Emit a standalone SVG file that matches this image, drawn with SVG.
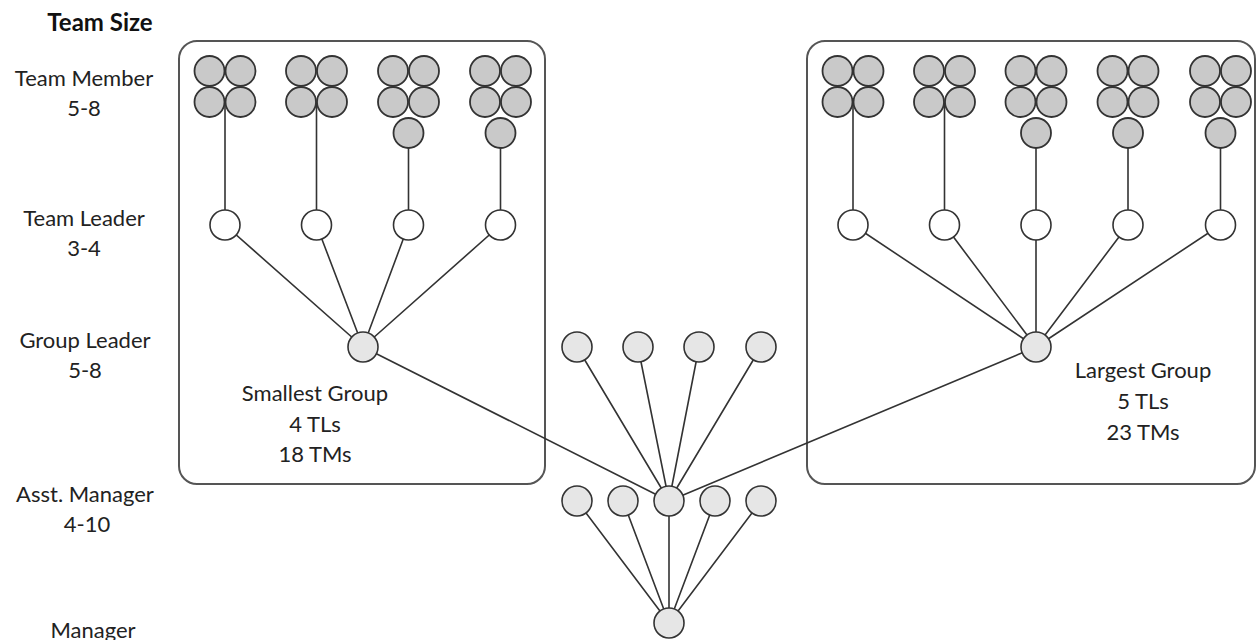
<svg xmlns="http://www.w3.org/2000/svg" width="1257" height="640" viewBox="0 0 1257 640">
<style>
.lbl{font-family:Lato,"Open Sans","Liberation Sans",sans-serif;font-size:22px;fill:#222;text-anchor:middle}
.ttl{font-family:Lato,"Open Sans","Liberation Sans",sans-serif;font-size:24px;font-weight:bold;fill:#111;text-anchor:middle}
.box{fill:none;stroke:#555;stroke-width:2}
.ln{stroke:#333;stroke-width:1.6;fill:none}
.tm{fill:#c9c9c9;stroke:#333;stroke-width:1.8}
.tl{fill:#fff;stroke:#333;stroke-width:1.6}
.gl{fill:#e6e6e6;stroke:#333;stroke-width:1.6}
</style>
<defs>
<g id="c4"><circle class="tm" cx="-15.5" cy="0" r="15"/><circle class="tm" cx="15.5" cy="0" r="15"/><circle class="tm" cx="-15.5" cy="31" r="15"/><circle class="tm" cx="15.5" cy="31" r="15"/></g>
<g id="c5"><use href="#c4"/><circle class="tm" cx="0" cy="62" r="15"/></g>
</defs>
<rect width="1257" height="640" fill="#fff"/>
<g id="labels">
<text class="ttl" x="100" y="31">Team Size</text>
<text class="lbl" x="84" y="86">Team Member</text>
<text class="lbl" x="84" y="116">5-8</text>
<text class="lbl" x="84" y="226">Team Leader</text>
<text class="lbl" x="84" y="256">3-4</text>
<text class="lbl" x="85" y="348">Group Leader</text>
<text class="lbl" x="85" y="378">5-8</text>
<text class="lbl" x="85" y="502">Asst. Manager</text>
<text class="lbl" x="87" y="532">4-10</text>
<text class="lbl" x="93" y="638">Manager</text>
</g>
<g id="boxes">
<rect id="smallest-box" class="box" x="179" y="41" width="366" height="443" rx="18"/>
<rect id="largest-box" class="box" x="807" y="41" width="448" height="443" rx="18"/>
</g>
<g id="connectors">
<path class="ln" d="M225 102V225M316.5 102V225M408.5 133V225M500.5 133V225"/>
<path class="ln" d="M853 102V225M944.5 102V225M1036 133V225M1128 133V225M1220.5 133V225"/>
<path class="ln" d="M225 225L363 347M316.5 225L363 347M408.5 225L363 347M500.5 225L363 347"/>
<path class="ln" d="M853 225L1036 347M944.5 225L1036 347M1036 225L1036 347M1128 225L1036 347M1220.5 225L1036 347"/>
<path class="ln" d="M363 347L669 501M1036 347L669 501M577 347L669 501M638 347L669 501M699 347L669 501M761 347L669 501"/>
<path class="ln" d="M577 501L669 623M623 501L669 623M669 501L669 623M715 501L669 623M761 501L669 623"/>
</g>
<g id="smallest-group">
<g id="tm-s1"><use href="#c4" x="225" y="71"/></g>
<g id="tm-s2"><use href="#c4" x="316.5" y="71"/></g>
<g id="tm-s3"><use href="#c5" x="408.5" y="71"/></g>
<g id="tm-s4"><use href="#c5" x="500.5" y="71"/></g>
<g id="tl-s"><circle class="tl" cx="225" cy="225" r="15"/><circle class="tl" cx="316.5" cy="225" r="15"/><circle class="tl" cx="408.5" cy="225" r="15"/><circle class="tl" cx="500.5" cy="225" r="15"/></g>
<g id="gl-s"><circle class="gl" cx="363" cy="347" r="15"/></g>
<text class="lbl" x="315" y="401">Smallest Group</text>
<text class="lbl" x="315" y="432">4 TLs</text>
<text class="lbl" x="315" y="462">18 TMs</text>
</g>
<g id="largest-group">
<g id="tm-l1"><use href="#c4" x="853" y="71"/></g>
<g id="tm-l2"><use href="#c4" x="944.5" y="71"/></g>
<g id="tm-l3"><use href="#c5" x="1036" y="71"/></g>
<g id="tm-l4"><use href="#c5" x="1128" y="71"/></g>
<g id="tm-l5"><use href="#c5" x="1220.5" y="71"/></g>
<g id="tl-l"><circle class="tl" cx="853" cy="225" r="15"/><circle class="tl" cx="944.5" cy="225" r="15"/><circle class="tl" cx="1036" cy="225" r="15"/><circle class="tl" cx="1128" cy="225" r="15"/><circle class="tl" cx="1220.5" cy="225" r="15"/></g>
<g id="gl-l"><circle class="gl" cx="1036" cy="347" r="15"/></g>
<text class="lbl" x="1143" y="378">Largest Group</text>
<text class="lbl" x="1143" y="409">5 TLs</text>
<text class="lbl" x="1143" y="440">23 TMs</text>
</g>
<g id="other-group-leaders">
<circle class="gl" cx="577" cy="347" r="15"/><circle class="gl" cx="638" cy="347" r="15"/><circle class="gl" cx="699" cy="347" r="15"/><circle class="gl" cx="761" cy="347" r="15"/>
</g>
<g id="asst-managers">
<circle class="gl" cx="577" cy="501" r="15"/><circle class="gl" cx="623" cy="501" r="15"/><circle class="gl" cx="669" cy="501" r="15"/><circle class="gl" cx="715" cy="501" r="15"/><circle class="gl" cx="761" cy="501" r="15"/>
</g>
<g id="manager"><circle class="gl" cx="669" cy="623" r="15"/></g>
</svg>
